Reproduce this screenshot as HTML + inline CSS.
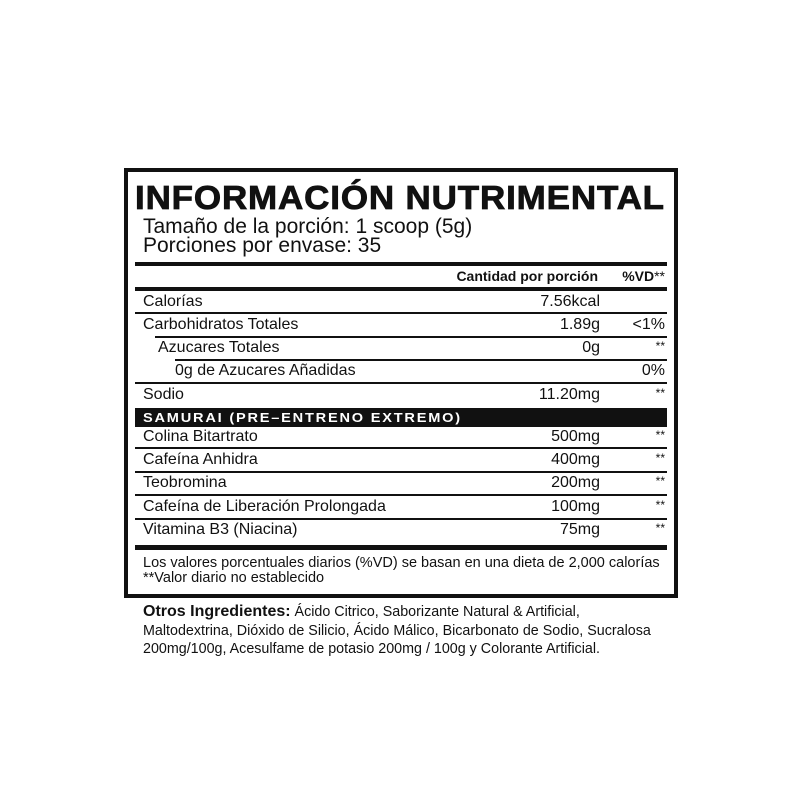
<!DOCTYPE html>
<html><head><meta charset="utf-8"><style>
*{margin:0;padding:0;box-sizing:border-box}
body{width:800px;height:800px;background:#fff;position:relative;font-family:"Liberation Sans",Arial,sans-serif;color:#111;overflow:hidden}
.box{position:absolute;left:124px;top:168px;width:554px;height:430px;border:4px solid #111}
.a{position:absolute;white-space:nowrap;line-height:1}
.l{position:absolute;background:#111}
.r{font-size:16px}
.v{position:absolute;right:200px;white-space:nowrap;font-size:16px;line-height:1}
.p{position:absolute;right:135px;white-space:nowrap;font-size:16px;line-height:1}
.s{font-size:13px;letter-spacing:1.6px;transform:scaleX(1.12);transform-origin:left}
</style></head><body>
<div class="box"></div>
<div class="a" style="left:135px;top:181px;font-size:33px;font-weight:bold;letter-spacing:0.8px;transform:scaleX(1.06);transform-origin:left;-webkit-text-stroke:0.8px #111">INFORMACIÓN NUTRIMENTAL</div>
<div class="a" style="left:143px;top:216px;font-size:21px">Tamaño de la porción: 1 scoop (5g)</div>
<div class="a" style="left:143px;top:235px;font-size:21px">Porciones por envase: 35</div>
<div class="l" style="left:135px;top:262px;width:532px;height:4px"></div>
<div class="a" style="right:202px;top:269px;font-size:14px;font-weight:bold">Cantidad por porción</div>
<div class="a" style="right:135px;top:269px;font-size:14px;font-weight:bold">%VD<span style="font-weight:normal">**</span></div>
<div class="l" style="left:135px;top:287px;width:532px;height:4px"></div>

<div class="a r" style="left:143px;top:294px">Calorías</div><div class="v" style="top:294px">7.56kcal</div>
<div class="l" style="left:135px;top:312px;width:532px;height:2px"></div>
<div class="a r" style="left:143px;top:317px">Carbohidratos Totales</div><div class="v" style="top:317px">1.89g</div><div class="p" style="top:317px">&lt;1%</div>
<div class="l" style="left:155px;top:336px;width:512px;height:2px"></div>
<div class="a r" style="left:158px;top:340px">Azucares Totales</div><div class="v" style="top:340px">0g</div><div class="p" style="top:340px;font-size:12px">**</div>
<div class="l" style="left:175px;top:359px;width:492px;height:2px"></div>
<div class="a r" style="left:175px;top:363px">0g de Azucares Añadidas</div><div class="p" style="top:363px">0%</div>
<div class="l" style="left:135px;top:382px;width:532px;height:2px"></div>
<div class="a r" style="left:143px;top:387px">Sodio</div><div class="v" style="top:387px">11.20mg</div><div class="p" style="top:387px;font-size:12px">**</div>

<div class="l" style="left:135px;top:408px;width:532px;height:19px"></div>
<div class="a s" style="left:143px;top:411px;color:#fff;font-weight:bold">SAMURAI (PRE–ENTRENO EXTREMO)</div>

<div class="a r" style="left:143px;top:429px">Colina Bitartrato</div><div class="v" style="top:429px">500mg</div><div class="p" style="top:429px;font-size:12px">**</div>
<div class="l" style="left:135px;top:447px;width:532px;height:2px"></div>
<div class="a r" style="left:143px;top:452px">Cafeína Anhidra</div><div class="v" style="top:452px">400mg</div><div class="p" style="top:452px;font-size:12px">**</div>
<div class="l" style="left:135px;top:471px;width:532px;height:2px"></div>
<div class="a r" style="left:143px;top:475px">Teobromina</div><div class="v" style="top:475px">200mg</div><div class="p" style="top:475px;font-size:12px">**</div>
<div class="l" style="left:135px;top:494px;width:532px;height:2px"></div>
<div class="a r" style="left:143px;top:499px">Cafeína de Liberación Prolongada</div><div class="v" style="top:499px">100mg</div><div class="p" style="top:499px;font-size:12px">**</div>
<div class="l" style="left:135px;top:518px;width:532px;height:2px"></div>
<div class="a r" style="left:143px;top:522px">Vitamina B3 (Niacina)</div><div class="v" style="top:522px">75mg</div><div class="p" style="top:522px;font-size:12px">**</div>
<div class="l" style="left:135px;top:545px;width:532px;height:5px"></div>

<div class="a" style="left:143px;top:556px;font-size:14.5px">Los valores porcentuales diarios (%VD) se basan en una dieta de 2,000 calorías</div>
<div class="a" style="left:143px;top:571px;font-size:14.5px">**Valor diario no establecido</div>

<div class="a" style="left:143px;top:604px;font-size:14.3px"><b style="font-size:16px">Otros Ingredientes:</b> Ácido Citrico, Saborizante Natural &amp; Artificial,</div>
<div class="a" style="left:143px;top:624px;font-size:14.3px">Maltodextrina, Dióxido de Silicio, Ácido Málico, Bicarbonato de Sodio, Sucralosa</div>
<div class="a" style="left:143px;top:642px;font-size:14.3px">200mg/100g, Acesulfame de potasio 200mg / 100g y Colorante Artificial.</div>
</body></html>
